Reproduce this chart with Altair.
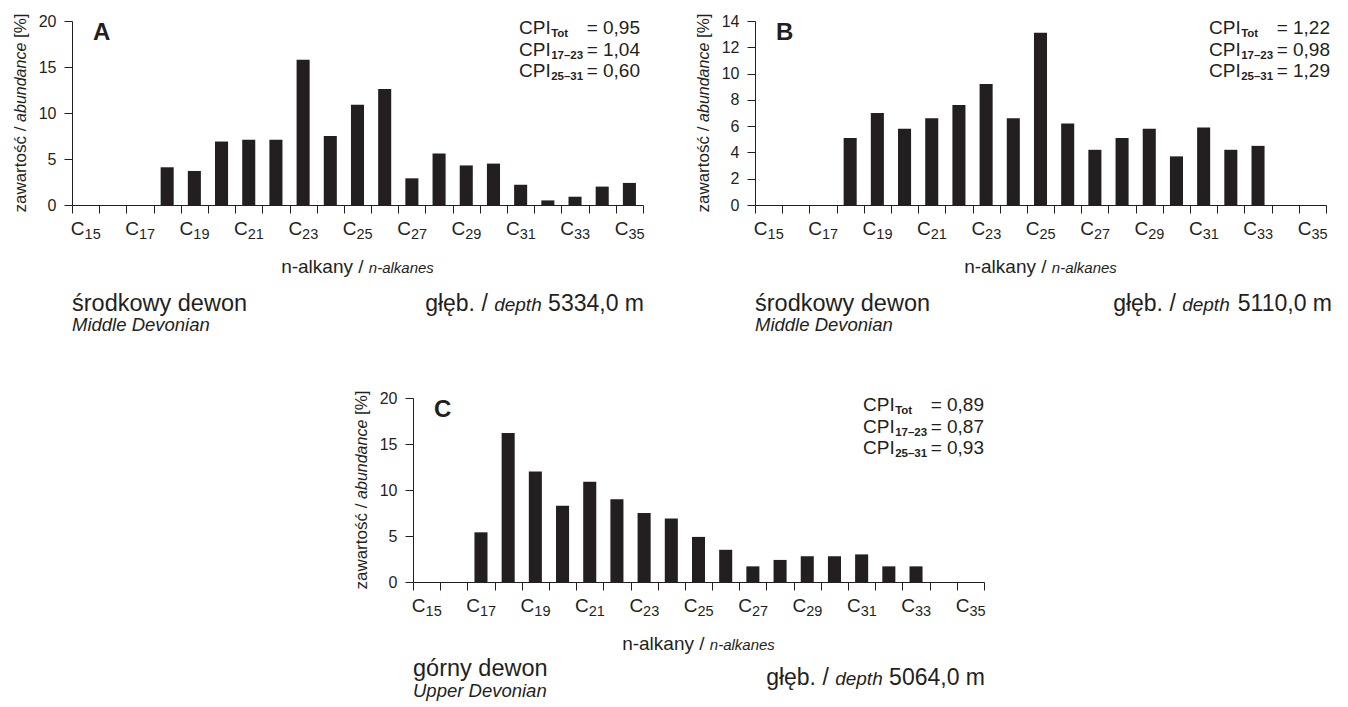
import altair as alt
import pandas as pd

# ---------------- data ----------------
carbons = list(range(15, 36))
vals_A = [0, 0, 0, 4.1, 3.7, 6.9, 7.1, 7.1, 15.8, 7.5, 10.9, 12.6, 2.9, 5.6, 4.3, 4.5, 2.2, 0.5, 0.9, 2.0, 2.4]
vals_B = [0, 0, 0, 5.1, 7.0, 5.8, 6.6, 7.6, 9.2, 6.6, 13.1, 6.2, 4.2, 5.1, 5.8, 3.7, 5.9, 4.2, 4.5, 0, 0]
vals_C = [0, 0, 5.4, 16.2, 12.0, 8.3, 10.9, 9.0, 7.5, 6.9, 4.9, 3.5, 1.7, 2.4, 2.8, 2.8, 3.0, 1.7, 1.7, 0, 0]
label_carbons = [15, 17, 19, 21, 23, 25, 27, 29, 31, 33, 35]
cpi_subs = ["Tot", "17–23", "25–31"]
cpi_A = ["0,95", "1,04", "0,60"]
cpi_B = ["1,22", "0,98", "1,29"]
cpi_C = ["0,89", "0,87", "0,93"]
era_A = ("środkowy dewon", "Middle Devonian")
era_B = ("środkowy dewon", "Middle Devonian")
era_C = ("górny dewon", "Upper Devonian")
depth_A = "5334,0 m"
depth_B = "5110,0 m"
depth_C = "5064,0 m"

INK = "#231f20"
FONT = "Liberation Sans"
W, H = 571, 184

AW = {' ': 278, '/': 278, '.': 278, ',': 278, '-': 333, '–': 556, '=': 584, '[': 278,
      ']': 278, '%': 889, 'a': 556, 'b': 556, 'c': 500, 'd': 556, 'e': 556, 'g': 556, 'h': 556,
      'i': 222, 'k': 500, 'l': 222, 'm': 833, 'n': 556, 'o': 556, 'p': 556, 'r': 333, 's': 500,
      't': 278, 'u': 556, 'v': 500, 'w': 722, 'y': 500, 'z': 500, 'ł': 222, 'ę': 556, 'ś': 500,
      'ć': 500, 'ó': 556, 'M': 833, 'D': 722, 'U': 722, 'C': 722, 'P': 667, 'I': 278, 'T': 611}


def tw(s, size):
    return sum(AW.get(ch, 556) for ch in s) * size / 1000.0


one = pd.DataFrame({"k": [0]})


def txt(text, x, y, size, align="left", baseline="alphabetic", style="normal",
        weight="normal", angle=0):
    kw = dict(text=text, align=align, baseline=baseline, fontSize=size, font=FONT,
              color=INK, fontStyle=style, fontWeight=weight)
    if angle:
        kw["angle"] = angle
    return alt.Chart(one).mark_text(**kw).encode(x=alt.value(x), y=alt.value(y))


def panel(letter, vals, ymax, ystep, cpis, era, depth, era_base, era_gap, depth_base,
          cpi_right, depth_right):
    df = pd.DataFrame({"c": carbons, "v": vals})
    df = df[df.v > 0].copy()
    df["x0"] = df.c - 0.24
    df["x1"] = df.c + 0.24
    df["z"] = 0.0
    xscale = alt.Scale(domain=[14.5, 35.5], nice=False, zero=False, padding=0)
    yscale = alt.Scale(domain=[0, ymax], nice=False, padding=0)
    edges = [c - 0.5 for c in range(15, 37)]
    yvals = list(range(0, ymax + 1, ystep))
    xaxis = alt.Axis(values=edges, labels=False, title=None, grid=False, tickSize=8,
                     domain=True, ticks=True, domainColor=INK, tickColor=INK,
                     domainWidth=1, tickWidth=1)

    bars = alt.Chart(df).mark_bar(color=INK).encode(
        x=alt.X("x0:Q", scale=xscale, axis=xaxis),
        x2="x1:Q",
        y=alt.Y("v:Q", scale=yscale,
                axis=alt.Axis(values=yvals, title=None, grid=False, tickSize=8, labelPadding=8,
                              labelFontSize=16, labelFont=FONT, labelColor=INK,
                              domain=True, ticks=True, domainColor=INK, tickColor=INK,
                              domainWidth=1, tickWidth=1)),
        y2="z:Q",
    )
    dl = pd.DataFrame({"x0": label_carbons, "sub": [str(c) for c in label_carbons]})
    ctext = alt.Chart(dl).mark_text(text="C", align="right", baseline="alphabetic", fontSize=19,
                                    font=FONT, color=INK, dx=-1).encode(
        x=alt.X("x0:Q", scale=xscale, axis=xaxis), y=alt.value(H + 30))
    stext = alt.Chart(dl).mark_text(align="left", baseline="alphabetic", fontSize=14.5,
                                    font=FONT, color=INK, dx=-1).encode(
        x=alt.X("x0:Q", scale=xscale, axis=xaxis), y=alt.value(H + 34), text="sub:N")

    layers = [bars, ctext, stext]
    layers.append(txt(letter, 21, 12, 24, baseline="middle", weight="bold"))

    # CPI block
    right = W - cpi_right
    for i, (sub, val) in enumerate(zip(cpi_subs, cpis)):
        yy = 7 + 21.5 * i
        layers.append(txt("CPI", right - 121, yy, 19, baseline="middle"))
        layers.append(txt(sub, right - 121 + tw("CPI", 19) + 0.5, yy + 6, 11.5,
                          baseline="middle", weight="bold"))
        layers.append(txt("= " + val, right, yy, 19, align="right", baseline="middle"))

    # y title (rotated, mixed style)
    p1, p2, p3 = "zawartość /", "abundance", "[%]"
    sp = tw(" ", 17)
    w1, w2, w3 = tw(p1, 17) + sp, tw(p2, 16) + sp, tw(p3, 17)
    T = w1 + w2 + w3
    ymid = H / 2
    start = ymid + T / 2
    layers.append(txt(p1, -51, start, 17, baseline="middle", angle=270))
    layers.append(txt(p2, -51, start - w1, 16, baseline="middle", style="italic", angle=270))
    layers.append(txt(p3, -51, start - w1 - w2, 17, baseline="middle", angle=270))

    # x title
    q1, q2 = "n-alkany /", "n-alkanes"
    v1, v2 = tw(q1 + " ", 19), tw(q2, 15)
    x0 = W / 2 - (v1 + v2) / 2
    layers.append(txt(q1, x0, H + 68, 19))
    layers.append(txt(q2, x0 + v1, H + 68, 15, style="italic"))

    # era
    layers.append(txt(era[0], 0, H + era_base, 23.5))
    layers.append(txt(era[1], 0, H + era_base + era_gap, 18.5, style="italic"))

    # depth
    r1, r2, r3 = "głęb. /", "depth", depth
    sp23 = tw(" ", 23)
    u3, u2 = tw(r3, 23), tw(r2, 19)
    xr = W + depth_right
    layers.append(txt(r3, xr, H + depth_base, 23, align="right"))
    layers.append(txt(r2, xr - u3 - sp23, H + depth_base, 19, align="right", style="italic"))
    layers.append(txt(r1, xr - u3 - sp23 - u2 - sp23, H + depth_base, 23, align="right"))

    return alt.layer(*layers).properties(width=W, height=H)


A = panel("A", vals_A, 20, 5, cpi_A, era_A, depth_A, 106, 20, 106, 3, 1)
B = panel("B", vals_B, 14, 2, cpi_B, era_B, depth_B, 106, 20, 106, -4, 6)
Cp = panel("C", vals_C, 20, 5, cpi_C, era_C, depth_C, 94, 21, 103, 0, 1)

spacer = alt.Chart(one).mark_point(opacity=0, size=0).encode(
    x=alt.value(0), y=alt.value(0)).properties(width=281, height=10)

row1 = alt.hconcat(A, B, spacing=50)
row2 = alt.hconcat(spacer, Cp, spacing=0)
chart = alt.vconcat(row1, row2, spacing=55).properties(
    padding={"left": 4, "top": 5, "right": 0, "bottom": 0}
).configure_view(stroke=None).configure_axis(domain=True, ticks=True)

chart.save("out.html", embed_options={"renderer": "svg", "actions": False})
